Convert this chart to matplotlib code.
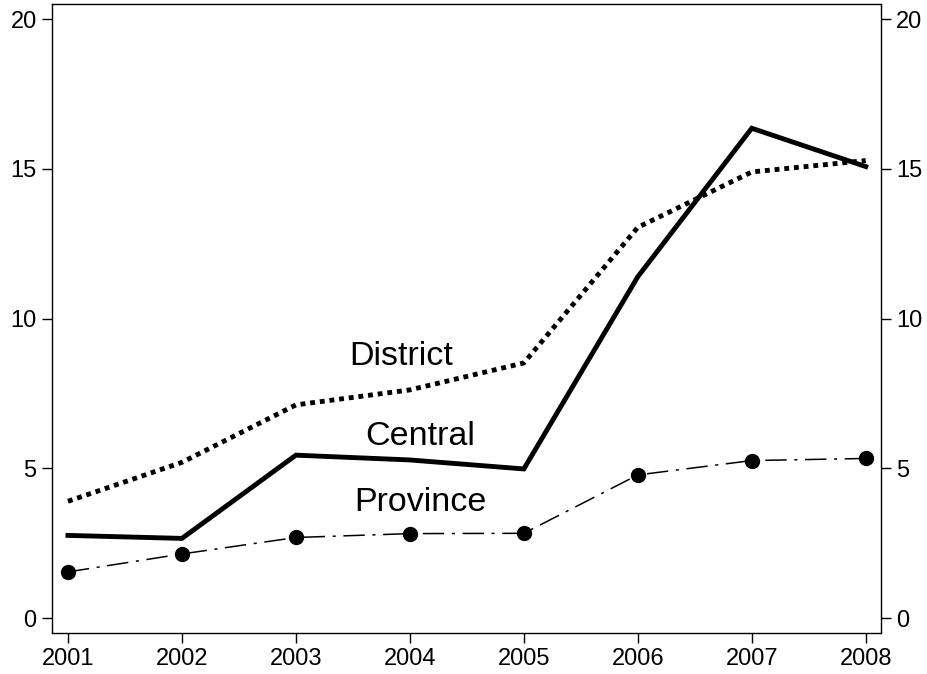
import matplotlib
matplotlib.use("Agg")
import matplotlib.pyplot as plt

years = [2001, 2002, 2003, 2004, 2005, 2006, 2007, 2008]
central = [2.76, 2.66, 5.44, 5.28, 4.98, 11.4, 16.36, 15.08]
district = [3.9, 5.2, 7.12, 7.62, 8.52, 13.05, 14.9, 15.28]
province = [1.54, 2.14, 2.69, 2.82, 2.83, 4.78, 5.26, 5.33]
yticks = [0, 5, 10, 15, 20]

plt.rcParams["font.family"] = ["Liberation Sans", "DejaVu Sans"]

fig = plt.figure(figsize=(9.27, 6.74), dpi=100)
ax = fig.add_axes([52 / 927, 41 / 674, 829 / 927, 629 / 674])

ax.plot(years, district, color="black", lw=3.5, linestyle=(0, (1, 1)),
        dash_capstyle="butt")
ax.plot(years, central, color="black", lw=3.5, solid_joinstyle="miter")
ax.plot(years, province, color="black", lw=1.1, linestyle=(0, (14, 5, 2, 5)),
        marker="o", markersize=10)

ax.text(2003.92, 8.45, "District", fontsize=24.5, ha="center", va="baseline")
ax.text(2004.09, 5.78, "Central", fontsize=24.5, ha="center", va="baseline")
ax.text(2004.09, 3.58, "Province", fontsize=24.5, ha="center", va="baseline")

ax.set_xlim(2000.86, 2008.134)
ax.set_ylim(-0.5, 20.51)
ax.set_xticks(years)
ax.set_yticks(yticks)
ax.tick_params(axis="both", direction="out", length=7, width=1, labelsize=17,
               pad=4)
ax.tick_params(axis="y", left=True, right=True, labelleft=True, labelright=True)
for s in ax.spines.values():
    s.set_linewidth(1.0)

fig.savefig("out.png", dpi=100)
